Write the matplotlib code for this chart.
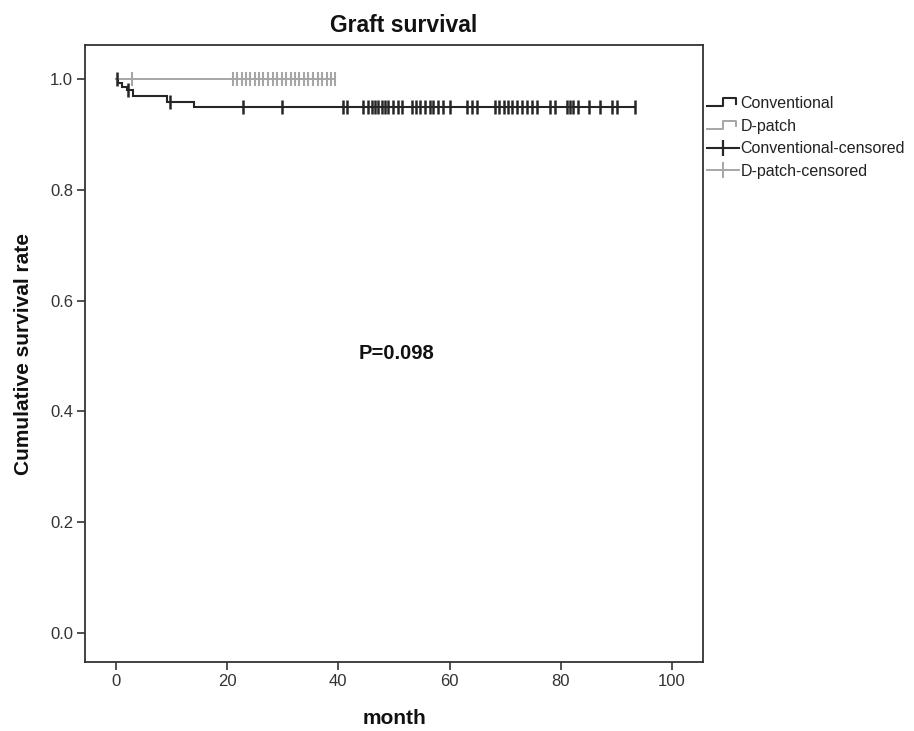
import matplotlib
matplotlib.use("Agg")
import matplotlib.pyplot as plt
from matplotlib.lines import Line2D
from matplotlib.legend_handler import HandlerBase
import numpy as np

plt.rcParams['font.family'] = ['Liberation Sans', 'DejaVu Sans']

# ---- data ----
conv_event_times = [0.3, 1.0, 1.9, 3.0, 9.2, 14.0]
conv_surv_levels = [1.0, 0.992, 0.985, 0.979, 0.969, 0.959, 0.949]
conv_end = 93.3
conv_censor_times = [0.1, 2.2, 9.8, 22.9, 29.9, 40.9, 41.5, 44.5, 45.4, 46.0, 46.6, 47.2,
                     47.8, 48.4, 49.0, 49.9, 50.8, 51.4, 53.2, 54.0, 54.7, 55.6, 56.4,
                     57.1, 58.0, 58.9, 60.1, 63.1, 64.0, 64.9, 68.2, 68.9, 69.8, 70.6,
                     71.3, 72.1, 73.0, 73.9, 74.8, 75.7, 78.1, 79.0, 81.1, 81.7, 82.2,
                     83.1, 85.1, 87.1, 89.2, 90.1, 93.3]

dpatch_surv = 1.0
dpatch_end = 39.4
dpatch_censor_times = [2.9, 21.0, 21.8, 22.6, 23.3, 24.1, 25.0, 25.8, 26.5, 27.4, 28.2,
                       29.0, 29.8, 30.6, 31.4, 32.2, 33.0, 33.9, 34.6, 35.4, 36.3, 37.1,
                       37.9, 38.7, 39.4]

x_ticks = [0, 20, 40, 60, 80, 100]
y_ticks = [0.0, 0.2, 0.4, 0.6, 0.8, 1.0]
legend_labels = ["Conventional", "D-patch", "Conventional-censored", "D-patch-censored"]
p_text = "P=0.098"

conv_color = "#262626"
dp_color = "#a6a6a6"

W, H = 914, 731
fig = plt.figure(figsize=(W / 100, H / 100), dpi=100)
ax = fig.add_axes([85 / W, 1 - 662 / H, (703 - 85) / W, (662 - 45) / H])

def surv_at(t, times, levels):
    idx = np.searchsorted(times, t, side='right')
    return levels[idx]

# conventional step curve
cx = [0.0] + list(conv_event_times) + [conv_end]
cy = list(conv_surv_levels) + [conv_surv_levels[-1]]
ax.step(cx, cy, where='post', color=conv_color, lw=1.5, solid_joinstyle='miter')
# D-patch curve
ax.step([0.0, dpatch_end], [dpatch_surv, dpatch_surv], where='post', color=dp_color, lw=1.4)

# censor marks
cyc = [surv_at(t, conv_event_times, conv_surv_levels) for t in conv_censor_times]
ax.plot(conv_censor_times, cyc, ls='none', marker='|', ms=10, mew=1.8, color=conv_color)
ax.plot(dpatch_censor_times, [dpatch_surv] * len(dpatch_censor_times), ls='none',
        marker='|', ms=10, mew=1.5, color=dp_color)

ax.set_xlim(-5.58, 105.6)
ax.set_ylim(-0.052, 1.061)
ax.set_xticks(x_ticks)
ax.set_yticks(y_ticks)
ax.set_xticklabels([str(v) for v in x_ticks])
ax.set_yticklabels([f"{v:.1f}" for v in y_ticks])
ax.tick_params(direction='out', length=5.5, width=1.2, colors='#333333', labelsize=12, pad=3)
for s in ax.spines.values():
    s.set_linewidth(1.3)
    s.set_color('#333333')

ax.text(50.5, 0.505, p_text, fontsize=14.5, fontweight='bold', ha='center', va='center', color='#111111')

fig.text(404 / W, 1 - 25 / H, "Graft survival", fontsize=16.5, fontweight='bold', ha='center', va='center', color='#111111')
fig.text(395 / W, 1 - 718 / H, "month", fontsize=15, fontweight='bold', ha='center', va='center', color='#111111')
fig.text(24 / W, 1 - 354 / H, "Cumulative survival rate", fontsize=15, fontweight='bold', ha='center',
         va='center', rotation=90, color='#111111')

# legend
class StepHandler(HandlerBase):
    def create_artists(self, legend, orig_handle, xdescent, ydescent, width, height, fontsize, trans):
        x0, y0 = -xdescent, -ydescent
        xs = [x0, x0 + 0.5 * width, x0 + 0.5 * width, x0 + 0.92 * width, x0 + 0.92 * width]
        ys = [y0 + 0.15 * height, y0 + 0.15 * height, y0 + 0.85 * height, y0 + 0.85 * height, y0 + 0.4 * height]
        ln = Line2D(xs, ys, color=orig_handle.get_color(), lw=orig_handle.get_linewidth())
        ln.set_transform(trans)
        return [ln]

h_conv = Line2D([], [], color=conv_color, lw=1.5)
h_dp = Line2D([], [], color=dp_color, lw=1.4)
h_cc = Line2D([], [], color=conv_color, lw=1.5, marker='|', ms=11, mew=1.6)
h_dc = Line2D([], [], color=dp_color, lw=1.4, marker='|', ms=11, mew=1.4)

fig.legend([h_conv, h_dp, h_cc, h_dc], legend_labels,
           handler_map={h_conv: StepHandler(), h_dp: StepHandler()},
           loc='upper left', bbox_to_anchor=(707 / W, 1 - 96 / H), frameon=False,
           borderpad=0, borderaxespad=0, handlelength=2.0, handletextpad=0.1,
           labelspacing=0.48, numpoints=1, fontsize=11.5, labelcolor='#222222')

fig.savefig("out.png", dpi=100)
